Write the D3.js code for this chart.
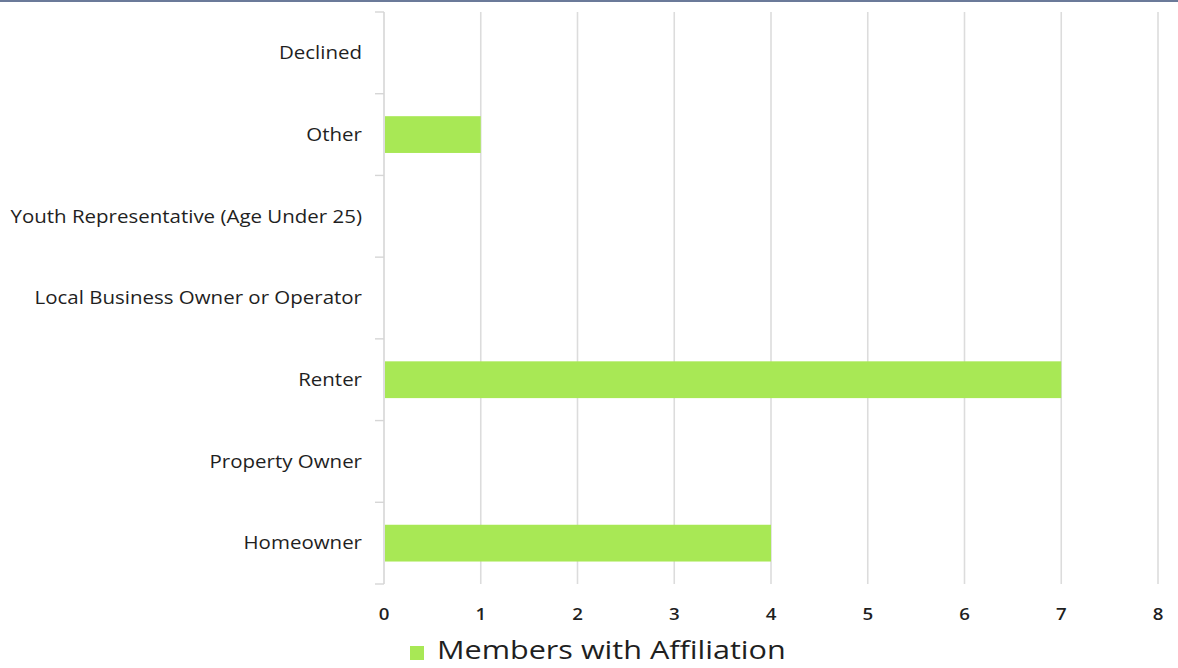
<!DOCTYPE html>
<html><head><meta charset="utf-8">
<script src="https://cdn.jsdelivr.net/npm/d3@7"></script>
<style>
html,body{margin:0;padding:0;background:#fff;}
svg{display:block;font-family:"Open Sans",sans-serif;}
</style></head>
<body>
<svg id="c" width="1178" height="668"></svg>
<script>
const categories = ["Declined","Other","Youth Representative (Age Under 25)","Local Business Owner or Operator","Renter","Property Owner","Homeowner"];
const values = [0,1,0,0,7,0,4];
const xTicks = [0,1,2,3,4,5,6,7,8];
const seriesName = "Members with Affiliation";

(function(){
const svg = d3.select("#c");
const W = 1178, H = 668;
const mL = 384, mR = 1158, mT = 12, mB = 584;

svg.append("rect").attr("x",0).attr("y",0).attr("width",W).attr("height",2).attr("fill","#6b7a99");

const x = d3.scaleLinear().domain([0,8]).range([mL,mR]);
const y = d3.scaleBand().domain(categories).range([mT,mB]).paddingInner(0.55).paddingOuter(0.275);

// grid
svg.append("g").selectAll("line").data(xTicks.filter(d=>d>0)).join("line")
  .attr("x1",d=>x(d)).attr("x2",d=>x(d)).attr("y1",mT).attr("y2",mB)
  .attr("stroke","#dcdcdc").attr("stroke-width",1.6);

// bars
svg.append("g").selectAll("rect").data(categories.map((c,i)=>({c,v:values[i]})).filter(d=>d.v>0)).join("rect")
  .attr("x",x(0)+1).attr("y",d=>y(d.c)).attr("width",d=>x(d.v)-x(0)-1).attr("height",y.bandwidth())
  .attr("fill","#a8e855");

// y axis line + ticks between categories
const yb = d3.scaleLinear().domain([0,categories.length]).range([mT,mB]);
svg.append("line").attr("x1",mL).attr("x2",mL).attr("y1",mT).attr("y2",mB).attr("stroke","#d6d6d6").attr("stroke-width",1.6);
svg.append("g").selectAll("line").data(d3.range(categories.length+1)).join("line")
  .attr("x1",mL-9).attr("x2",mL).attr("y1",d=>yb(d)).attr("y2",d=>yb(d))
  .attr("stroke","#d6d6d6").attr("stroke-width",1.4);

// category labels
const labs = svg.append("g").selectAll("text").data(categories).join("text")
  .attr("text-anchor","end").attr("font-size",18).attr("font-weight",500).attr("fill","#1f1f1f")
  .attr("dy","0.35em").text(d=>d);
let maxW = 0; labs.each(function(){ maxW = Math.max(maxW, this.getComputedTextLength()); });
const sx = 352 / maxW;
labs.attr("transform", d=>`translate(362,${y(d)+y.bandwidth()/2}) scale(${sx},1)`);

// x tick labels
svg.append("g").selectAll("text").data(xTicks).join("text")
  .attr("transform",d=>`translate(${x(d)},620) scale(1.1,1)`).attr("text-anchor","middle")
  .attr("font-size",17).attr("font-weight",600).attr("fill","#1f1f1f").text(d=>d);

// legend
svg.append("rect").attr("x",410).attr("y",646).attr("width",14).attr("height",14).attr("fill","#a8e855");
const lt = svg.append("text").attr("font-size",26).attr("font-weight",500).attr("fill","#1f1f1f").text(seriesName);
const lw = lt.node().getComputedTextLength();
lt.attr("transform",`translate(437,659) scale(${349/lw},1)`);
})();
</script>
</body></html>
